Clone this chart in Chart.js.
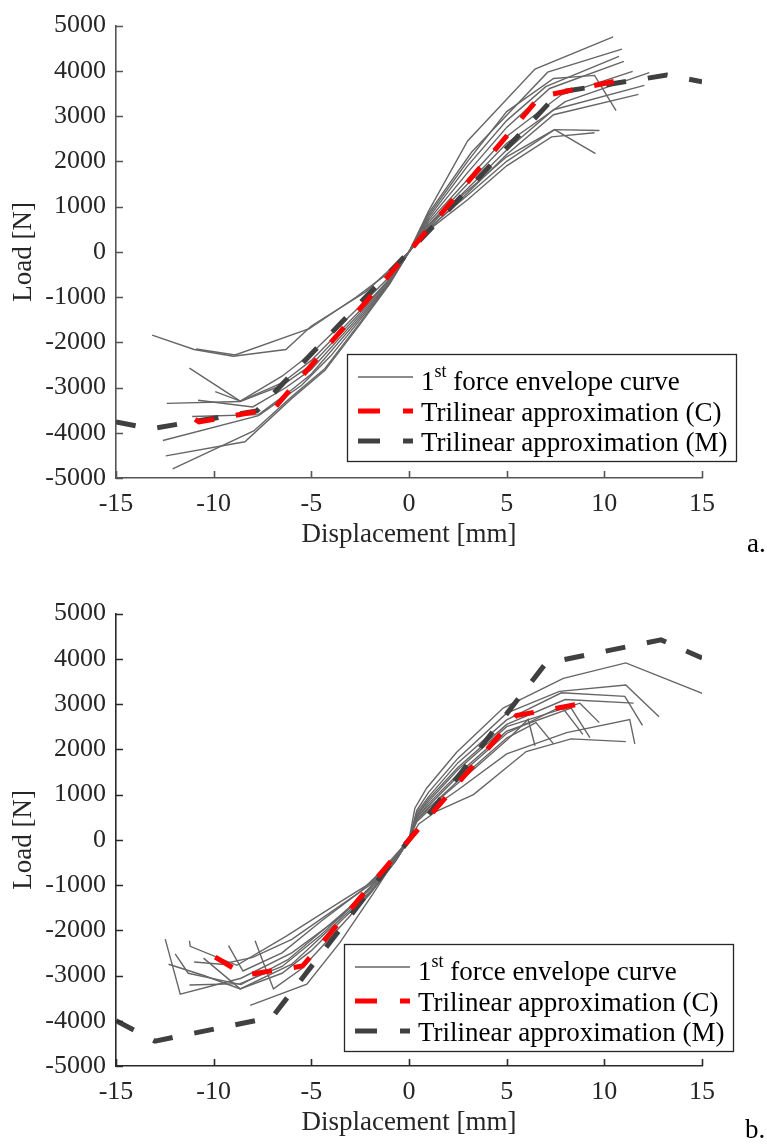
<!DOCTYPE html>
<html>
<head>
<meta charset="utf-8">
<script src="https://cdn.jsdelivr.net/npm/chart.js@4.4.0/dist/chart.umd.min.js"></script>
<style>
  body { margin: 0; background: #fff; }
  #wrap { position: relative; width: 767px; height: 1147px; overflow: hidden; background: #fff; }
  #wrap canvas { position: absolute; left: 0; }
  .tag { position: absolute; font-family: "Liberation Serif", "Times New Roman", serif; font-size: 27px; line-height: 27px; color: #000; }
</style>
</head>
<body>
<div id="wrap">
  <canvas id="chartA" width="767" height="559" style="top:0px"></canvas>
  <canvas id="chartB" width="767" height="559" style="top:588px"></canvas>
  <div class="tag" style="left:747px; top:530px">a.</div>
  <div class="tag" style="left:745px; top:1116px">b.</div>
</div>
<script>
// axis ticks
const dispTicks = [-15, -10, -5, 0, 5, 10, 15]
const loadTicks = [-5000, -4000, -3000, -2000, -1000, 0, 1000, 2000, 3000, 4000, 5000]

// a. 1st force envelope curves, [displacement mm, load N], one branch per specimen
const envelopeA = [
    [[0, 0], [1.0, 900], [3.0, 2450], [6.45, 4040], [10.45, 4750]],
    [[0, 0], [1.0, 850], [3.2, 2200], [7.1, 3970], [10.9, 4480]],
    [[0, 0], [1.0, 750], [3.0, 1900], [5.0, 2900], [7.0, 3650], [10.75, 4320]],
    [[0, 0], [1.0, 700], [3.0, 1750], [5.0, 2750], [7.2, 3610], [11.0, 4210]],
    [[0, 0], [1.0, 650], [3.0, 1600], [5.0, 2550], [7.8, 3470], [11.45, 3990]],
    [[0, 0], [1.0, 600], [3.0, 1500], [5.0, 2400], [8.0, 3320], [12.3, 3960]],
    [[0, 0], [1.0, 550], [3.0, 1400], [5.0, 2250], [7.4, 3140], [12.05, 3680]],
    [[0, 0], [1.0, 500], [3.0, 1300], [5.0, 2150], [7.4, 3030], [11.75, 3480]],
    [[0, 0], [1.0, 800], [3.0, 2000], [5.0, 3100], [7.4, 3830], [9.5, 3900], [10.6, 3120]],
    [[0, 0], [1.0, 520], [3.0, 1250], [5.0, 2000], [7.45, 2700], [9.75, 2680]],
    [[0, 0], [1.0, 480], [3.0, 1150], [5.0, 1900], [7.3, 2540], [9.5, 2630]],
    [[0, 0], [1.0, 600], [3.0, 1350], [5.0, 2100], [7.45, 2700], [9.55, 2170]],
    [[0, 0], [-2.2, -880], [-5.0, -1640], [-6.3, -2160], [-9.0, -2310], [-11.0, -2160], [-13.15, -1840]],
    [[0, 0], [-1.0, -450], [-2.7, -1000], [-5.1, -1700], [-8.9, -2280], [-10.9, -2150]],
    [[0, 0], [-1.0, -550], [-2.5, -1200], [-5.0, -2250], [-6.5, -2750], [-8.64, -3300], [-11.24, -2570]],
    [[0, 0], [-1.0, -600], [-2.5, -1300], [-5.0, -2400], [-6.5, -2900], [-8.64, -3300], [-9.92, -3090]],
    [[0, 0], [-1.0, -620], [-2.5, -1350], [-5.0, -2500], [-6.5, -2950], [-8.64, -3310], [-12.4, -3350]],
    [[0, 0], [-1.0, -650], [-2.5, -1400], [-5.0, -2600], [-6.3, -3000], [-8.0, -3430], [-10.8, -3280]],
    [[0, 0], [-1.0, -680], [-2.5, -1450], [-5.0, -2700], [-6.0, -3050], [-7.7, -3600], [-11.1, -3640]],
    [[0, 0], [-1.0, -700], [-2.5, -1500], [-4.0, -2300], [-5.5, -2950], [-7.7, -3620], [-12.6, -4170]],
    [[0, 0], [-1.0, -720], [-2.5, -1600], [-4.3, -2620], [-6.0, -3240], [-8.4, -4200], [-12.45, -4510]],
    [[0, 0], [-1.0, -700], [-2.5, -1560], [-4.3, -2580], [-6.0, -3200], [-7.95, -3960], [-12.1, -4800]]
]
const trilinCA = [[-10.95, -3705], [-10.75, -3760], [-6.9, -3460], [0, 0], [6.7, 3430], [10.6, 3775], [10.9, 3700]]
const trilinMA = [[-15, -3760], [-13.2, -3910], [-7.8, -3520], [0, 0], [7.7, 3530], [13.2, 3905], [15, 3760]]

// b.
const envelopeB = [
    [[0, 0], [0.3, 700], [0.9, 1140], [2.44, 1935], [4.82, 2913], [7.9, 3570], [11.1, 3910], [15.06, 3230]],
    [[0, 0], [0.4, 650], [1.0, 1050], [2.5, 1800], [5.0, 2800], [7.7, 3280], [11.1, 3420], [12.8, 2720]],
    [[0, 0], [0.4, 600], [1.0, 950], [2.5, 1700], [5.0, 2650], [7.8, 3250], [11.05, 3170], [11.95, 2530]],
    [[0, 0], [0.4, 550], [1.0, 900], [2.5, 1600], [5.0, 2550], [8.0, 3100], [11.5, 3020]],
    [[0, 0], [0.4, 550], [1.0, 850], [2.5, 1550], [5.0, 2500], [8.75, 3020], [9.74, 2590]],
    [[0, 0], [0.4, 500], [1.0, 800], [2.5, 1450], [5.0, 2400], [8.3, 2910], [9.26, 2260]],
    [[0, 0], [0.4, 500], [1.0, 750], [2.5, 1400], [5.0, 2350], [7.8, 2950], [8.9, 2330]],
    [[0, 0], [0.4, 450], [1.0, 700], [2.5, 1300], [5.0, 2250], [6.5, 2590], [7.4, 2120]],
    [[0, 0], [0.4, 450], [1.0, 700], [2.5, 1250], [5.0, 2200], [6.1, 2660], [6.45, 2080]],
    [[0, 0], [0.4, 400], [1.0, 650], [2.5, 1100], [5.0, 1900], [8.07, 2370], [11.3, 2660], [11.56, 2120]],
    [[0, 0], [0.5, 350], [1.4, 630], [3.3, 1000], [6.0, 1950], [8.3, 2230], [11.1, 2170]],
    [[0, 0], [-0.7, -420], [-2.0, -1050], [-3.5, -1700], [-6.0, -2500], [-8.6, -3060], [-11.71, -3413], [-12.48, -2196]],
    [[0, 0], [-0.8, -383], [-2.0, -963], [-3.36, -1326], [-6.26, -2122], [-8.81, -2775], [-11.2, -2354], [-11.24, -2231]],
    [[0, 0], [-0.7, -450], [-2.0, -1100], [-4.0, -1850], [-6.2, -2650], [-8.6, -3200], [-11.3, -2950], [-11.97, -2521]],
    [[0, 0], [-0.7, -470], [-2.0, -1150], [-4.0, -1950], [-6.0, -2750], [-8.64, -3296], [-10.5, -3000], [-12.31, -2750]],
    [[0, 0], [-0.7, -480], [-2.0, -1180], [-3.5, -1800], [-5.0, -2450], [-6.5, -2950], [-8.64, -3296], [-10.52, -2615]],
    [[0, 0], [-1.0, -520], [-2.5, -1150], [-4.5, -1800], [-6.5, -2500], [-8.5, -2900], [-9.24, -2340]],
    [[0, 0], [-0.7, -470], [-2.0, -1200], [-4.0, -2150], [-5.5, -2850], [-6.94, -3296], [-7.88, -2231]],
    [[0, 0], [-0.3, -170], [-1.82, -1180], [-3.53, -2267], [-5.23, -3190], [-8.13, -3659]],
    [[0, 0], [-1.0, -560], [-2.5, -1300], [-4.5, -2100], [-6.5, -2800], [-8.64, -3180], [-11.24, -3209]],
    [[0, 0], [-0.7, -400], [-2.0, -1000], [-4.0, -1600], [-6.0, -2200], [-8.0, -2600], [-9.6, -2750], [-11.0, -2700]]
]
const trilinCB = [[-9.92, -2594], [-8.4, -2990], [-5.45, -2790], [0, 0], [5.5, 2745], [8.7, 3000], [9.2, 2840]]
const trilinMB = [[-15, -4000], [-13, -4450], [-7, -3920], [0, 0], [7, 3900], [12.9, 4420], [15, 4020]]

Chart.defaults.font.family = '"Liberation Serif", "Times New Roman", serif'
Chart.defaults.color = '#262626'

const toXY = pts => pts.map(p => ({x: p[0], y: p[1]}))

// inward tick marks and the boxed legend
const axisDecor = {
    id: 'axisDecor',
    afterDraw(chart, args, opts) {
        const {ctx, chartArea: a, scales: {x, y}} = chart
        ctx.save()
        ctx.strokeStyle = opts.axisColor
        ctx.lineWidth = 1.6
        ctx.beginPath()
        x.ticks.forEach(t => {
            const px = Math.round(x.getPixelForValue(t.value)) + 0.5
            ctx.moveTo(px, a.bottom)
            ctx.lineTo(px, a.bottom - 7)
        })
        y.ticks.forEach(t => {
            const py = Math.round(y.getPixelForValue(t.value)) + 0.5
            ctx.moveTo(a.left, py)
            ctx.lineTo(a.left + 7, py)
        })
        ctx.stroke()

        // legend
        const L = opts.box[0], T = opts.box[1], W = opts.box[2], H = opts.box[3]
        ctx.fillStyle = '#fff'
        ctx.fillRect(L, T, W, H)
        ctx.strokeStyle = '#262626'
        ctx.lineWidth = 1.3
        ctx.strokeRect(L + 0.5, T + 0.5, W, H)

        const rows = [
            {color: '#666666', width: 1.6, dash: [], y: 23, base: 36},
            {color: '#ff0000', width: 5, dash: [22, 23], y: 57, base: 67},
            {color: '#404040', width: 5, dash: [22, 23], y: 87, base: 97}
        ]
        rows.forEach(r => {
            ctx.beginPath()
            ctx.setLineDash(r.dash)
            ctx.strokeStyle = r.color
            ctx.lineWidth = r.width
            ctx.moveTo(L + 11, T + r.y)
            ctx.lineTo(L + 66, T + r.y)
            ctx.stroke()
        })
        ctx.setLineDash([])
        ctx.fillStyle = '#000'
        ctx.textBaseline = 'alphabetic'
        ctx.textAlign = 'left'
        const big = '27px "Liberation Serif", "Times New Roman", serif'
        const small = '18px "Liberation Serif", "Times New Roman", serif'
        let tx = L + 74
        ctx.font = big
        ctx.fillText('1', tx, T + rows[0].base)
        tx += ctx.measureText('1').width
        ctx.font = small
        ctx.fillText('st', tx, T + rows[0].base - 13)
        tx += ctx.measureText('st').width
        ctx.font = big
        ctx.fillText(' force envelope curve', tx, T + rows[0].base)
        ctx.fillText('Trilinear approximation (C)', L + 74, T + rows[1].base)
        ctx.fillText('Trilinear approximation (M)', L + 74, T + rows[2].base)
        ctx.restore()
    }
}

function makeChart(id, envelope, trilinC, trilinM, box, axisColor) {
    const datasets = envelope.map(c => ({
        data: toXY(c), borderColor: '#666666', borderWidth: 1.4, order: 2
    }))
    datasets.push({data: toXY(trilinM), borderColor: '#404040', borderWidth: 5, borderDash: [20, 22], order: 1})
    datasets.push({data: toXY(trilinC), borderColor: '#ff0000', borderWidth: 5, borderDash: [20, 22], order: 0})
    datasets.forEach(d => {
        d.showLine = true
        d.pointRadius = 0
        d.pointHoverRadius = 0
        d.tension = 0
        d.fill = false
    })

    return new Chart(document.getElementById(id).getContext('2d'), {
        type: 'scatter',
        data: {datasets: datasets},
        plugins: [axisDecor],
        options: {
            responsive: false,
            animation: false,
            events: [],
            layout: {padding: {top: 18, right: 65, left: 0, bottom: 0}},
            plugins: {
                legend: {display: false},
                tooltip: {enabled: false},
                axisDecor: {box: box, axisColor: axisColor}
            },
            scales: {
                x: {
                    type: 'linear',
                    min: -15, max: 15,
                    afterBuildTicks: s => { s.ticks = dispTicks.map(v => ({value: v})) },
                    afterFit: s => { s.height = 81 },
                    grid: {display: false, drawTicks: false},
                    border: {display: true, color: axisColor, width: 1.6},
                    ticks: {font: {size: 26}, padding: 11, maxRotation: 0, callback: v => String(v)},
                    title: {display: true, text: 'Displacement [mm]', font: {size: 27}, padding: {top: 0, bottom: 8}}
                },
                y: {
                    type: 'linear',
                    min: -5000, max: 5000,
                    afterBuildTicks: s => { s.ticks = loadTicks.map(v => ({value: v})) },
                    afterFit: s => { s.width = 116 },
                    grid: {display: false, drawTicks: false},
                    border: {display: true, color: axisColor, width: 1.6},
                    ticks: {font: {size: 26}, padding: 10, callback: v => String(v)},
                    title: {display: true, text: 'Load [N]', font: {size: 27}, padding: {top: 8, bottom: 0}}
                }
            }
        }
    })
}

makeChart('chartA', envelopeA, trilinCA, trilinMA, [347, 354, 389, 107], '#555555')
makeChart('chartB', envelopeB, trilinCB, trilinMB, [344, 356, 389, 107], '#2a2a2a')
</script>
</body>
</html>
